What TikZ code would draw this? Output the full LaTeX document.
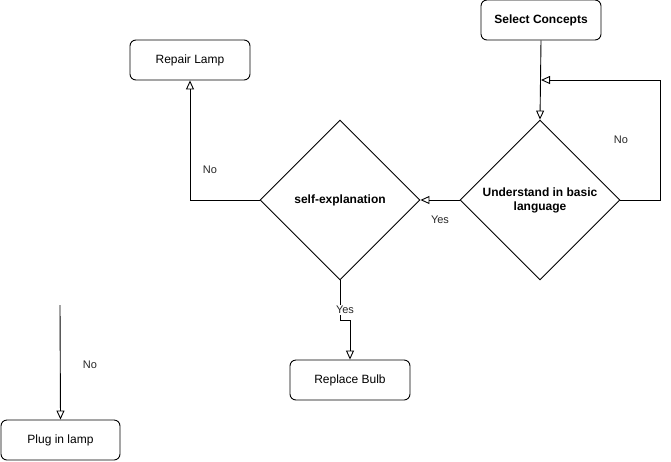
\documentclass[tikz,border=0pt]{standalone}
\usepackage{fontspec}
\setmainfont{Liberation Sans}
\usetikzlibrary{arrows.meta,shapes.geometric}
\begin{document}
\begin{tikzpicture}[x=1pt,y=-1pt,
  every node/.style={font=\fontsize{12}{14}\selectfont},
  box/.style={draw,rounded corners=6pt,line width=0.9pt,minimum width=120pt,minimum height=40pt,inner sep=0pt},
  dia/.style={draw,diamond,aspect=1,line width=0.9pt,minimum width=160pt,minimum height=160pt,inner sep=0pt,align=center,font=\fontsize{12}{14}\selectfont\bfseries},
  arr/.style={draw,line width=0.9pt,-{Triangle[open,length=9pt,width=8pt]}},
  lbl/.style={font=\fontsize{11}{13}\selectfont,text=black!85,inner sep=1pt}]
\useasboundingbox (0,0) rectangle (671,461);

% process boxes
\node[box,font=\fontsize{12}{14}\selectfont\bfseries] (sel) at (541,20) {Select Concepts};
\node[box] (rep) at (190,60) {Repair Lamp};
\node[box] (bulb) at (350,380) {Replace Bulb};
\node[box,minimum width=119pt] (plug) at (60.5,440) {Plug in lamp};

% decisions
\node[dia] (und) at (540,200) {Understand in basic\\language};
\node[dia] (se) at (340,200) {self-explanation};

% helper points
\coordinate (loopin) at (541,80);
\coordinate (free) at (60,305);

% connectors
\draw[arr] (sel.south) -- (und.north);
\draw[arr] (und.east) -- (660,200) |- (loopin);
\draw[arr] (und.west) -- (se.east);
\draw[arr] (se.west) -| (rep.south);
\draw[arr] (se.south) -- (340,320) -| (bulb.north);
\draw[arr] (free) -- (plug.north);

% connector labels
\node[lbl] (l1) at (621,140) {No};
\node[lbl] (l2) at (440,220) {Yes};
\node[lbl] (l3) at (210,170) {No};
\node[lbl,fill=white] (l4) at (345,310) {Yes};
\node[lbl] (l5) at (90,365) {No};
\end{tikzpicture}
\end{document}
